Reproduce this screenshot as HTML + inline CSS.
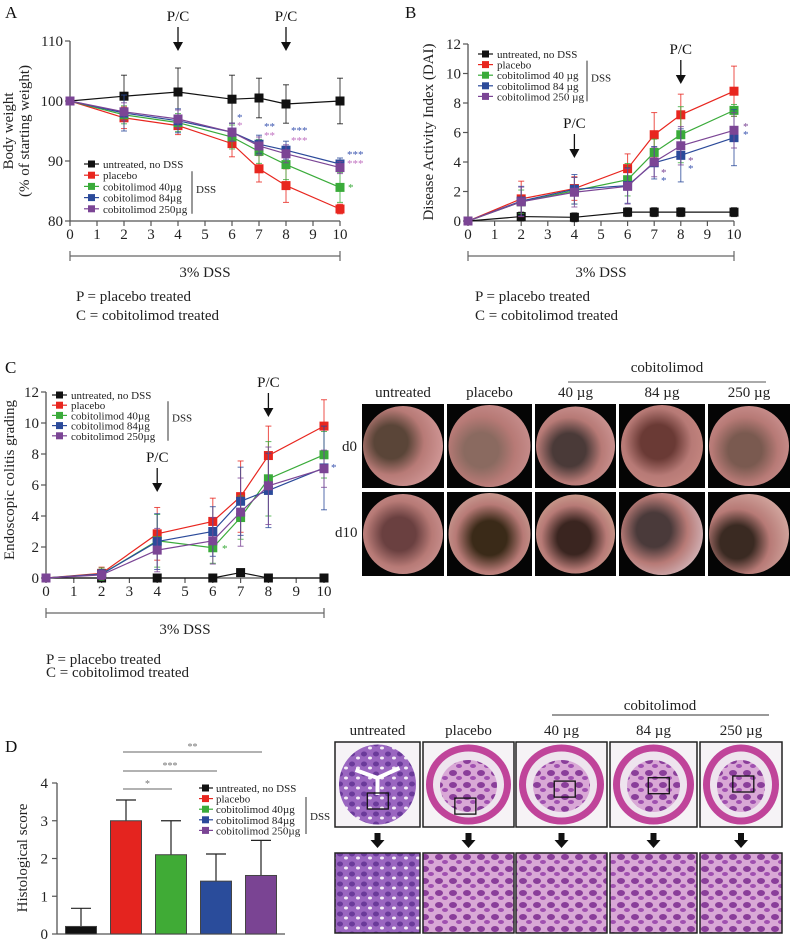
<!DOCTYPE html>
<html><head><meta charset="utf-8"><style>
html,body{margin:0;padding:0;background:#fff;}
svg{display:block;font-family:"Liberation Serif",serif;}
</style></head><body>
<svg id="fig" width="790" height="942" viewBox="0 0 790 942" xmlns="http://www.w3.org/2000/svg">
<defs id="defs">
<pattern id="histo" width="14" height="12" patternUnits="userSpaceOnUse">
<rect width="14" height="12" fill="#d9a8d6"/><ellipse cx="5" cy="5" rx="4" ry="3" fill="#8a3e9a"/><ellipse cx="11" cy="10" rx="3" ry="2" fill="#a050b0"/></pattern>
<pattern id="histo0" width="12" height="10" patternUnits="userSpaceOnUse">
<rect width="12" height="10" fill="#9a66c0"/><ellipse cx="4" cy="4" rx="3" ry="2.5" fill="#6a3a9a"/><ellipse cx="10" cy="8" rx="2" ry="1.5" fill="#f4eef6"/></pattern>
</defs>
</svg>
<script>
const days = [0,2,4,6,7,8,10];
const seriesNames = ["untreated, no DSS","placebo","cobitolimod 40µg","cobitolimod 84µg","cobitolimod 250µg"];
const colors = ["#111111","#e8261f","#3aab3a","#2b4a9a","#7b4595"];
// Panel A body weight
const aUntreated = [100,100.8,101.5,100.3,100.5,99.5,100];
const aPlacebo   = [100,97.2,95.9,92.9,88.7,85.9,82];
const a40        = [100,97.7,96.4,94.0,91.6,89.4,85.6];
const a84        = [100,98.0,96.7,94.8,92.8,91.8,89.5];
const a250       = [100,98.2,97.0,94.8,92.5,91.2,88.9];
const aErrUntreated = [0,3.5,4,4,3.3,3.2,3.8];
const aErrPlacebo = [0,1.8,1.5,2.2,2.2,2.8,0.8];
const aErr40 = [0,1.5,1.5,2,2,2.5,2.5];
const aErr84 = [0,3,2,1.5,1.5,1.5,1];
const aErr250 = [0,1.5,1.5,1.5,1.5,1.5,1];
const aYTicks = [80,90,100,110];
// Panel B DAI
const bUntreated = [0,0.3,0.25,0.6,0.6,0.6,0.6];
const bPlacebo   = [0,1.5,2.2,3.55,5.85,7.2,8.8];
const b40        = [0,1.3,2.05,2.8,4.65,5.85,7.5];
const b84        = [0,1.35,2.15,2.4,3.95,4.45,5.65];
const b250       = [0,1.3,1.95,2.35,4.0,5.1,6.15];
const bErrUntreated = [0,0.3,0.3,0.3,0.3,0.3,0.3];
const bErrPlacebo = [0,1.2,0.8,1.0,1.5,1.4,1.7];
const bErr40 = [0,0.8,0.9,1.1,0.9,1.9,0.4];
const bErr84 = [0,1,1,1.2,1.1,1.8,1.9];
const bErr250 = [0,1,1,1.2,1,1.3,1.2];
const bYTicks = [0,2,4,6,8,10,12];
// Panel C endoscopy
const cUntreated = [0,0,0,0,0.35,0,0];
const cPlacebo   = [0,0.3,2.85,3.65,5.25,7.9,9.8];
const c40        = [0,0.25,2.4,1.95,3.9,6.4,7.95];
const c84        = [0,0.25,2.35,3.0,4.95,5.65,7.1];
const c250       = [0,0.2,1.8,2.4,4.25,5.95,7.05];
const cErrUntreated = [0,0,0,0,0,0,0];
const cErrPlacebo = [0,0.4,1.7,1.5,2.3,1.9,1.7];
const cErr40 = [0,0.4,1.7,1.0,1.4,2.4,1.5];
const cErr84 = [0,0.3,1.8,1.6,2.2,2.4,2.7];
const cErr250 = [0,0.3,1.4,1.5,2.2,2.5,1.2];
const cYTicks = [0,2,4,6,8,10,12];
const xTicks = [0,1,2,3,4,5,6,7,8,9,10];
// Panel D histology
const dCategories = ["untreated, no DSS","placebo","cobitolimod 40µg","cobitolimod 84µg","cobitolimod 250µg"];
const dValues = [0.2,3.0,2.1,1.4,1.55];
const dErrors = [0.48,0.55,0.9,0.72,0.93];
const dYTicks = [0,1,2,3,4];

const NS="http://www.w3.org/2000/svg";
const svg=document.getElementById('fig');
const defs=document.getElementById('defs');
function mk(tag,attrs,parent,txt){const e=document.createElementNS(NS,tag);for(const k in attrs)e.setAttribute(k,attrs[k]);if(txt!==undefined)e.textContent=txt;(parent||svg).appendChild(e);return e;}
function txt(x,y,s,size,anchor,fill,parent,name){const t=mk('text',{x:x,y:y,'font-size':size,'text-anchor':anchor||'start',fill:fill||'#111'},parent,s);


return t;}

function lineChart(p){
  const g=mk('g',{});
  
  
  const X=v=>p.x0+(v-0)*(p.x1-p.x0)/10;
  const Y=v=>p.y0+(v-p.ymin)*(p.y1-p.y0)/(p.ymax-p.ymin);
  const ya=mk('line',{x1:p.x0,y1:Y(p.ymax),x2:p.x0,y2:Y(p.ymin),stroke:'#555','stroke-width':1.3},g);
  
  const xa=mk('line',{x1:p.x0,y1:Y(p.ymin),x2:p.x1,y2:Y(p.ymin),stroke:'#555','stroke-width':1.3},g);
  
  p.yTicks.forEach(v=>{mk('line',{x1:p.x0-5,y1:Y(v),x2:p.x0,y2:Y(v),stroke:'#555','stroke-width':1.2},g);
    txt(p.x0-7,Y(v)+5,String(v),15,'end','#222',g,'y-tick-label');});
  xTicks.forEach(v=>{mk('line',{x1:X(v),y1:Y(p.ymin),x2:X(v),y2:Y(p.ymin)+5,stroke:'#555','stroke-width':1.2},g);
    txt(X(v),Y(p.ymin)+18,String(v),15,'middle','#222',g,'x-tick-label');});
  [0,1,2,3,4].forEach(si=>{
    const vals=p.series[si], errs=p.errs[si], c=colors[si];
    const sg=mk('g',{},g);
    
    
    vals.forEach((v,i)=>{ if(errs[i]>0){
      const x=X(days[i]);
      mk('line',{x1:x,y1:Y(v+errs[i]),x2:x,y2:Y(v-errs[i]),stroke:c,'stroke-width':1,opacity:0.8},sg);
      mk('line',{x1:x-3,y1:Y(v+errs[i]),x2:x+3,y2:Y(v+errs[i]),stroke:c,'stroke-width':1,opacity:0.8},sg);
      mk('line',{x1:x-3,y1:Y(v-errs[i]),x2:x+3,y2:Y(v-errs[i]),stroke:c,'stroke-width':1,opacity:0.8},sg);}});
    const pts=vals.map((v,i)=>X(days[i])+','+Y(v)).join(' ');
    const pl=mk('polyline',{points:pts,fill:'none',stroke:c,'stroke-width':1.2},sg);
    
    vals.forEach((v,i)=>{const r=mk('rect',{x:X(days[i])-4.5,y:Y(v)-4.5,width:9,height:9,fill:c},sg);
      });
  });
  const lg=mk('g',{},g);
  
  p.legendNames.forEach((n,i)=>{const y=p.ly+i*p.lstep;
    mk('line',{x1:p.lx,y1:y,x2:p.lx+15,y2:y,stroke:colors[i],'stroke-width':1.2},lg);
    mk('rect',{x:p.lx+4,y:y-3.5,width:7,height:7,fill:colors[i]},lg);
    txt(p.lx+19,y+4,n,11,'start','#222',lg,'legend-entry');});
  mk('line',{x1:p.bx,y1:p.ly+p.lstep-4,x2:p.bx,y2:p.ly+4*p.lstep+5,stroke:'#333','stroke-width':1},lg);
  txt(p.bx+4,p.ly+2.6*p.lstep,'DSS',11,'start','#222',lg,'legend-dss-label');
  p.arrows.forEach(a=>{const x=X(a.day);
    txt(x,a.ty,'P/C',15,'middle','#111',g,'pc-label');
    mk('line',{x1:x,y1:a.ty+6,x2:x,y2:a.ty+24,stroke:'#111','stroke-width':1.3},g);
    mk('polygon',{points:(x-5)+','+(a.ty+21)+' '+(x+5)+','+(a.ty+21)+' '+x+','+(a.ty+30),fill:'#111'},g);});
  const by=p.dssY;
  mk('line',{x1:X(0),y1:by,x2:X(10),y2:by,stroke:'#666','stroke-width':1.2},g);
  mk('line',{x1:X(0),y1:by-5,x2:X(0),y2:by+5,stroke:'#666','stroke-width':1.2},g);
  mk('line',{x1:X(10),y1:by-5,x2:X(10),y2:by+5,stroke:'#666','stroke-width':1.2},g);
  txt((X(0)+X(10))/2,by+21,'3% DSS',15,'middle','#222',g,'dss-duration-label');
  txt(p.px,p.pY,'P = placebo treated',15,'start','#222',g,'footnote-p');
  txt(p.px,p.cY,'C = cobitolimod treated',15,'start','#222',g,'footnote-c');
  p.titles.forEach(t=>{const e=txt(t.x,t.y,t.s,15,'middle','#222',g,'y-axis-title');e.setAttribute('transform','rotate(-90 '+t.x+' '+t.y+')');});
  p.stars.forEach(s=>txt(s.x,s.y,s.s,11,'start',s.c,g,'significance-star'));
  return g;
}
const legA=["untreated, no DSS","placebo","cobitolimod 40µg","cobitolimod 84µg","cobitolimod 250µg"];
const legB=["untreated, no DSS","placebo","cobitolimod 40 µg","cobitolimod 84 µg","cobitolimod 250 µg"];
txt(5,18,'A',17,'start','#111',svg,'panel-a-label');
txt(405,18,'B',17,'start','#111',svg,'panel-b-label');
txt(5,373,'C',17,'start','#111',svg,'panel-c-label');
txt(5,752,'D',17,'start','#111',svg,'panel-d-label');

lineChart({name:'body-weight-chart',x0:70,x1:340,y0:221,y1:41,ymin:80,ymax:110,yTicks:aYTicks,
 series:[aUntreated,aPlacebo,a40,a84,a250],errs:[aErrUntreated,aErrPlacebo,aErr40,aErr84,aErr250],
 legendNames:legA,lx:84,ly:164,lstep:11.2,bx:192,
 arrows:[{day:4,ty:21},{day:8,ty:21}],dssY:256,px:76,pY:301,cY:320,
 titles:[{x:13,y:131,s:'Body weight'},{x:29,y:131,s:'(% of starting weight)'}],
 stars:[{x:237,y:121,s:'*',c:'#3b55b0'},{x:237,y:129,s:'*',c:'#c070c0'},{x:264,y:130,s:'**',c:'#3b55b0'},{x:264,y:139,s:'**',c:'#c070c0'},
 {x:291,y:134,s:'***',c:'#3b55b0'},{x:291,y:144,s:'***',c:'#c070c0'},{x:347,y:158,s:'***',c:'#3b55b0'},{x:347,y:167,s:'***',c:'#c070c0'},{x:348,y:191,s:'*',c:'#3aab3a'}]});

lineChart({name:'dai-chart',x0:468,x1:734,y0:221,y1:44,ymin:0,ymax:12,yTicks:bYTicks,
 series:[bUntreated,bPlacebo,b40,b84,b250],errs:[bErrUntreated,bErrPlacebo,bErr40,bErr84,bErr250],
 legendNames:legB,lx:478,ly:54,lstep:10.6,bx:587,
 arrows:[{day:4,ty:128},{day:8,ty:54}],dssY:256,px:475,pY:301,cY:320,
 titles:[{x:433,y:132,s:'Disease Activity Index (DAI)'}],
 stars:[{x:743,y:130,s:'*',c:'#7b4595'},{x:743,y:138,s:'*',c:'#3b55b0'},{x:661,y:176,s:'*',c:'#7b4595'},{x:661,y:184,s:'*',c:'#3b55b0'},{x:688,y:164,s:'*',c:'#7b4595'},{x:688,y:172,s:'*',c:'#3b55b0'}]});

lineChart({name:'endoscopic-grading-chart',x0:46,x1:324,y0:578,y1:392,ymin:0,ymax:12,yTicks:cYTicks,
 series:[cUntreated,cPlacebo,c40,c84,c250],errs:[cErrUntreated,cErrPlacebo,cErr40,cErr84,cErr250],
 legendNames:legA,lx:52,ly:395,lstep:10.2,bx:168,
 arrows:[{day:4,ty:462},{day:8,ty:387}],dssY:613,px:46,pY:664,cY:677,
 titles:[{x:14,y:480,s:'Endoscopic colitis grading'}],
 stars:[{x:222,y:552,s:'*',c:'#3aab3a'},{x:331,y:471,s:'*',c:'#3b55b0'}]});

// Panel D bar chart
(function(){
  const g=mk('g',{});
  
  
  const x0=57,y0=934,y4=783,xEnd=285;
  const Y=v=>y0+(y4-y0)*v/4;
  const bandW=45, firstC=81, barW=31;
  const Xc=i=>firstC+i*bandW;
  const fills=['#111','#e4241f','#40ab36','#2a4c9b','#7a4493'];
  mk('line',{x1:x0,y1:Y(4),x2:x0,y2:y0,stroke:'#555','stroke-width':1.3},g);
  mk('line',{x1:x0,y1:y0,x2:xEnd,y2:y0,stroke:'#555','stroke-width':1.3},g);
  dYTicks.forEach(v=>{mk('line',{x1:x0-5,y1:Y(v),x2:x0,y2:Y(v),stroke:'#555','stroke-width':1.2},g);
    txt(x0-9,Y(v)+5,String(v),15,'end','#222',g,'y-tick-label');});
  dValues.forEach((v,i)=>{
    const x=Xc(i), top=Y(v+dErrors[i]);
    mk('line',{x1:x,y1:top,x2:x,y2:Y(v),stroke:'#222','stroke-width':1.2},g);
    mk('line',{x1:x-10,y1:top,x2:x+10,y2:top,stroke:'#222','stroke-width':1.2},g);
    const r=mk('rect',{x:x-barW/2,y:Y(v),width:barW,height:y0-Y(v),fill:fills[i],stroke:'#444','stroke-width':1},g);
    
    
  });
  [[1,2,789,'*'],[1,3,771,'***'],[1,4,752,'**']].forEach(s=>{
    const xa=Xc(s[0])-3, xb=Xc(s[1])+1;
    mk('line',{x1:xa,y1:s[2],x2:xb,y2:s[2],stroke:'#666','stroke-width':1},g);
    txt((xa+xb)/2,s[2]-2,s[3],10,'middle','#777',g,'significance-star');});
  const e=txt(27,858,'Histological score',15,'middle','#222',g,'y-axis-title');
  e.setAttribute('transform','rotate(-90 27 858)');
  const lg=mk('g',{},g);
  
  dCategories.forEach((n,i)=>{const y=788+i*10.6;
    mk('line',{x1:199,y1:y,x2:213,y2:y,stroke:colors[i],'stroke-width':1.2},lg);
    mk('rect',{x:202,y:y-3.5,width:7,height:7,fill:colors[i]},lg);
    txt(216,y+4,n,11,'start','#222',lg,'legend-entry');});
  mk('line',{x1:306,y1:797,x2:306,y2:834,stroke:'#333','stroke-width':1},lg);
  txt(310,820,'DSS',11,'start','#222',lg,'legend-dss-label');
})();

// Endoscopy images
(function(){
  const g=mk('g',{});
  
  
  const cols=[[362,444],[447,532],[535,616],[619,705],[708,790]];
  const heads=['untreated','placebo','40 µg','84 µg','250 µg'];
  const rows=[[404,488],[492,576]];
  // lumen positions (fraction) per tile [row][col]
  const lum=[[[0.35,0.45],[0.4,0.55],[0.42,0.55],[0.45,0.45],[0.45,0.55]],
             [[0.45,0.5],[0.5,0.55],[0.48,0.55],[0.4,0.45],[0.35,0.6]]];
  const dark=[["#5a4538","#8a6a60","#4a3a38","#6a3a35","#7a5a50"],["#6a4040","#3a2a18","#3a2520","#4a3a3a","#3a2a22"]];
  const rim=[["#d8a0a0","#cf9898","#d8a4a4","#d09088","#d8a0a0"],["#d8a4a4","#dcc0b0","#e0c4a8","#e0d0d8","#d8b0a8"]];
  cols.forEach((c,i)=>{txt((c[0]+c[1])/2,397,heads[i],15,'middle','#222',g,'column-header');
    rows.forEach((r,j)=>{
      const id='eg'+j+'_'+i;
      const gr=mk('radialGradient',{id:id,cx:lum[j][i][0],cy:lum[j][i][1],r:0.75,fx:lum[j][i][0],fy:lum[j][i][1]},defs);
      mk('stop',{offset:0,'stop-color':dark[j][i]},gr);
      mk('stop',{offset:0.28,'stop-color':dark[j][i]},gr);
      mk('stop',{offset:0.55,'stop-color':'#b77a76'},gr);
      mk('stop',{offset:1,'stop-color':rim[j][i]},gr);
      const t=mk('rect',{x:c[0],y:r[0],width:c[1]-c[0],height:r[1]-r[0],fill:'#050505'},g);
      
      const cx=(c[0]+c[1])/2, cy=(r[0]+r[1])/2, rr=Math.min(c[1]-c[0],r[1]-r[0])/2-1;
      mk('circle',{cx:cx,cy:cy,r:rr,fill:'url(#'+id+')'},g);
    });});
  txt(667,372,'cobitolimod',15,'middle','#222',g,'cobitolimod-header');
  mk('line',{x1:568,y1:382,x2:766,y2:382,stroke:'#555','stroke-width':1},g);
  txt(342,451,'d0',15,'start','#222',g,'row-label-d0');
  txt(335,537,'d10',15,'start','#222',g,'row-label-d10');
})();

// Histology images
(function(){
  const g=mk('g',{});
  
  
  const cols=[[335,420],[423,514],[516,607],[610,697],[700,782]];
  const heads=['untreated','placebo','40 µg','84 µg','250 µg'];
  const innerBox=[[0.38,0.6],[0.35,0.66],[0.42,0.46],[0.44,0.42],[0.4,0.4]];
  cols.forEach((c,i)=>{const w=c[1]-c[0], cx=(c[0]+c[1])/2;
    txt(cx,735,heads[i],15,'middle','#222',g,'column-header');
    const t=mk('rect',{x:c[0],y:742,width:w,height:85,fill:'#f6f3f6',stroke:'#222','stroke-width':1.5},g);
    
    if(i===0){
      mk('ellipse',{cx:cx,cy:784.5,rx:w/2-4,ry:40,fill:'url(#histo0)'},g);
      mk('path',{d:'M'+(cx-22)+' 770 L'+cx+' 778 L'+(cx+22)+' 768 M'+cx+' 778 L'+cx+' 795',stroke:'#fff','stroke-width':4,fill:'none'},g);
    } else {
      mk('ellipse',{cx:cx,cy:784.5,rx:w/2-3,ry:40,fill:'#c0449a'},g);
      mk('ellipse',{cx:cx,cy:784.5,rx:w/2-10,ry:33,fill:'#eee4ee'},g);
      mk('ellipse',{cx:cx,cy:786,rx:w/2-17,ry:26,fill:'url(#histo)'},g);
    }
    mk('rect',{x:c[0]+innerBox[i][0]*w,y:742+innerBox[i][1]*85,width:21,height:16,fill:'none',stroke:'#111','stroke-width':1.3},g);
    mk('rect',{x:cx-3,y:833,width:6,height:8,fill:'#111'},g);
    mk('polygon',{points:(cx-7)+',840 '+(cx+7)+',840 '+cx+',848',fill:'#111'},g);
    const b=mk('rect',{x:c[0],y:853,width:w,height:80,fill:i===0?'url(#histo0)':'url(#histo)',stroke:'#222','stroke-width':1.5},g);
    
  });
  txt(660,710,'cobitolimod',15,'middle','#222',g,'cobitolimod-header');
  mk('line',{x1:552,y1:715,x2:769,y2:715,stroke:'#333','stroke-width':1},g);
})();
</script>
</body></html>
